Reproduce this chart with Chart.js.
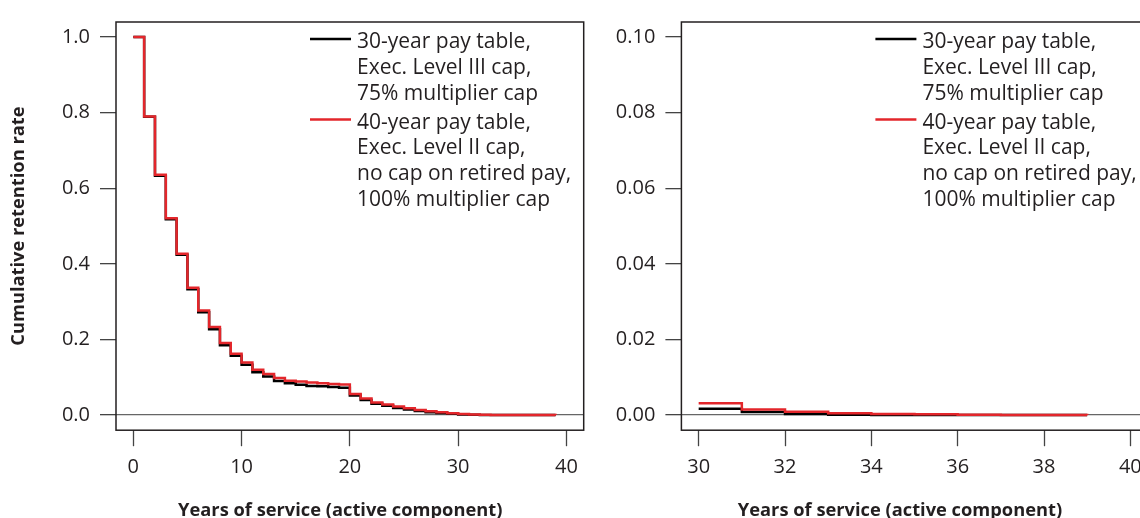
<!DOCTYPE html>
<html>
<head>
<meta charset="utf-8">
<title>Cumulative retention rate</title>
<script src="https://cdn.jsdelivr.net/npm/chart.js@4.4.1/dist/chart.umd.min.js"></script>
<style>
  html, body { margin: 0; padding: 0; background: #fff; overflow: hidden; }
  #wrap { position: relative; width: 1140px; height: 518px; overflow: hidden; }
  #leftChart { position: absolute; left: 0; top: 0; }
  #rightChart { position: absolute; left: 590px; top: 0; }
</style>
</head>
<body>
<div id="wrap">
  <canvas id="leftChart" width="590" height="518"></canvas>
  <canvas id="rightChart" width="570" height="518"></canvas>
</div>
<script>
// años de servicio (0..39)
const years = [0, 1, 2, 3, 4, 5, 6, 7, 8, 9, 10, 11, 12, 13, 14, 15, 16, 17, 18, 19,
  20, 21, 22, 23, 24, 25, 26, 27, 28, 29, 30, 31, 32, 33, 34, 35, 36, 37, 38, 39];

// 30-year pay table, Exec. Level III cap, 75% multiplier cap
const retention30 = [1.0, 0.789, 0.633, 0.518, 0.424, 0.333, 0.272, 0.227, 0.185, 0.157,
  0.133, 0.113, 0.102, 0.090, 0.084, 0.080, 0.077, 0.076, 0.074, 0.072,
  0.052, 0.040, 0.030, 0.025, 0.019, 0.015, 0.011, 0.0075, 0.0052, 0.0033,
  0.0017, 0.0008, 0.0003, 0.0001, 0.00005, 0.00003, 0.00001, 0, 0, 0];

// 40-year pay table, Exec. Level II cap, no cap on retired pay, 100% multiplier cap
const retention40 = [1.0, 0.790, 0.636, 0.521, 0.427, 0.337, 0.277, 0.233, 0.191, 0.1625,
  0.139, 0.120, 0.109, 0.098, 0.091, 0.089, 0.086, 0.084, 0.082, 0.081,
  0.056, 0.044, 0.0335, 0.028, 0.0224, 0.018, 0.0135, 0.010, 0.0075, 0.005,
  0.0031, 0.0015, 0.00085, 0.0005, 0.0003, 0.0002, 0.0001, 0.00005, 0.00003, 0];

const legend30 = ["30-year pay table,", "Exec. Level III cap,", "75% multiplier cap"];
const legend40 = ["40-year pay table,", "Exec. Level II cap,", "no cap on retired pay,", "100% multiplier cap"];

const leftXTicks = [0, 10, 20, 30, 40];
const leftYTicks = [0, 0.2, 0.4, 0.6, 0.8, 1.0];
const rightXTicks = [30, 32, 34, 36, 38, 40];
const rightYTicks = [0, 0.02, 0.04, 0.06, 0.08, 0.10];
const zoomStart = 30;

const xTitle = "Years of service (active component)";
const yTitle = "Cumulative retention rate";

const FONT = "'Open Sans', 'Noto Sans', sans-serif";
const TEXT = "#231f20";
const RED = "#e3262b";
const BLACK = "#000000";

Chart.defaults.font.family = FONT;
Chart.defaults.color = TEXT;

// 🔲 marco tipo R alrededor del área de trazado
const framePlugin = {
  id: "frame",
  afterDatasetsDraw(chart) {
    const { ctx, chartArea: a } = chart;
    ctx.save();
    ctx.strokeStyle = "#231f20";
    ctx.lineWidth = 1.5;
    ctx.strokeRect(a.left, a.top, a.right - a.left, a.bottom - a.top);
    ctx.restore();
  }
};

// 📝 leyenda con varias líneas por serie
const stepLegend = {
  id: "stepLegend",
  afterDraw(chart, args, opts) {
    const { ctx, chartArea: a } = chart;
    const x0 = a.left + opts.dx;
    let base = a.top + opts.dy;
    ctx.save();
    ctx.font = `${opts.size}px ${FONT}`;
    ctx.textBaseline = "alphabetic";
    ctx.textAlign = "left";
    chart.data.datasets.forEach((ds) => {
      ctx.strokeStyle = ds.borderColor;
      ctx.lineWidth = 2.5;
      ctx.beginPath();
      ctx.moveTo(x0, base - 9);
      ctx.lineTo(x0 + 41, base - 9);
      ctx.stroke();
      ctx.fillStyle = TEXT;
      ds.legendLines.forEach((line, k) => {
        ctx.fillText(line, x0 + 47, base + k * opts.lineH);
      });
      base += ds.legendLines.length * opts.lineH + opts.gap;
    });
    ctx.restore();
  }
};

// título del eje x (centrado un poco a la izquierda, como el original)
const xTitlePlugin = {
  id: "xTitle",
  afterDraw(chart, args, opts) {
    const { ctx, chartArea: a } = chart;
    ctx.save();
    ctx.font = `bold ${opts.size}px ${FONT}`;
    ctx.fillStyle = TEXT;
    ctx.textAlign = "center";
    ctx.textBaseline = "alphabetic";
    ctx.fillText(opts.text, (a.left + a.right) / 2 + opts.dx, opts.y);
    ctx.restore();
  }
};

function buildChart(canvasId, cfg) {
  const idx = years.map((y, i) => i).filter((i) => years[i] >= cfg.fromYear);
  const pts = (vals) => idx.map((i) => ({ x: years[i], y: vals[i] }));

  return new Chart(document.getElementById(canvasId), {
    type: "line",
    data: {
      datasets: [
        {
          label: legend30.join(" "),
          legendLines: legend30,
          data: pts(retention30),
          borderColor: BLACK,
          borderWidth: 2.5,
          stepped: true,
          pointRadius: 0,
          fill: false,
          order: 1,
        },
        {
          label: legend40.join(" "),
          legendLines: legend40,
          data: pts(retention40),
          borderColor: RED,
          borderWidth: 2.5,
          stepped: true,
          pointRadius: 0,
          fill: false,
          order: 0,
        },
      ],
    },
    options: {
      responsive: false,
      animation: false,
      devicePixelRatio: 1,
      layout: { padding: { top: 11.7, right: cfg.padRight, bottom: 0, left: 0 } },
      plugins: {
        legend: { display: false },
        tooltip: { enabled: false },
        stepLegend: { dx: 194, dy: 26, size: 21, lineH: 25.8, gap: 3.2 },
        xTitle: { text: xTitle, size: 18.3, dx: cfg.titleDx, y: 515.5 },
      },
      scales: {
        x: {
          type: "linear",
          min: cfg.xMin,
          max: cfg.xMax,
          afterBuildTicks: (s) => { s.ticks = cfg.xTicks.map((v) => ({ value: v })); },
          afterFit: (s) => { s.height = 87.8; },
          border: { display: false },
          grid: {
            color: "rgba(0,0,0,0)",
            tickColor: "#444",
            tickLength: 16,
            tickWidth: 1.3,
          },
          ticks: {
            autoSkip: false,
            maxRotation: 0,
            padding: 9,
            font: { size: 20 },
            color: TEXT,
            callback: (v) => String(v),
          },
        },
        y: {
          type: "linear",
          min: cfg.yMin,
          max: cfg.yMax,
          afterBuildTicks: (s) => { s.ticks = cfg.yTicks.map((v) => ({ value: v })); },
          afterFit: (s) => { s.width = cfg.yWidth; },
          border: { display: false },
          grid: {
            color: (c) => (c.tick && c.tick.value === 0 ? "#666" : "rgba(0,0,0,0)"),
            lineWidth: 1.3,
            tickColor: "#444",
            tickLength: 16,
            tickWidth: 1.3,
          },
          ticks: {
            autoSkip: false,
            padding: 10,
            font: { size: 20 },
            color: TEXT,
            callback: (v) => v.toFixed(cfg.decimals),
          },
          title: {
            display: cfg.showYTitle,
            text: yTitle,
            font: { size: 18.3, weight: "bold" },
            color: TEXT,
            padding: { top: 8, bottom: 0 },
          },
        },
      },
    },
    plugins: [framePlugin, stepLegend, xTitlePlugin],
  });
}

// 📈 panel izquierdo: toda la carrera
buildChart("leftChart", {
  fromYear: 0,
  xMin: -1.6, xMax: 41.6,
  yMin: -0.04, yMax: 1.04,
  xTicks: leftXTicks, yTicks: leftYTicks,
  decimals: 1,
  yWidth: 116,
  padRight: 6.3,
  titleDx: -9.6,
  showYTitle: true,
});

// 🔍 panel derecho: detalle de 30 años en adelante
buildChart("rightChart", {
  fromYear: zoomStart,
  xMin: 29.6, xMax: 40.4,
  yMin: -0.004, yMax: 0.104,
  xTicks: rightXTicks, yTicks: rightYTicks,
  decimals: 2,
  yWidth: 91.4,
  padRight: 12.4,
  titleDx: -14.5,
  showYTitle: false,
});
</script>
</body>
</html>
